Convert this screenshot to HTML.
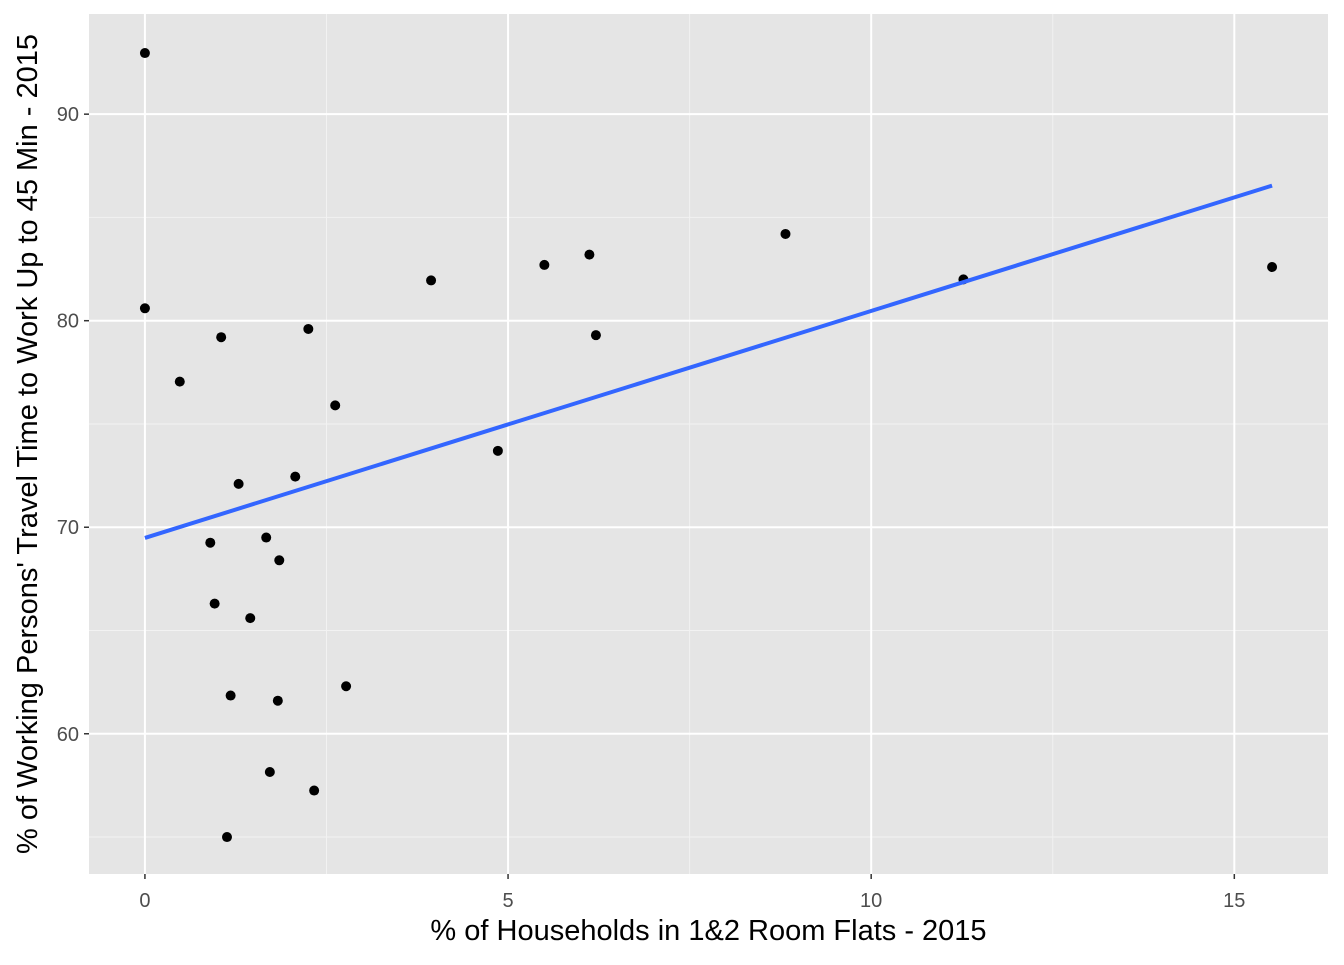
<!DOCTYPE html>
<html><head><meta charset="utf-8"><style>
body{margin:0;background:#fff;}
svg text{font-family:"Liberation Sans",Arial,sans-serif;}
</style></head><body>
<svg id="chart" width="1344" height="960" xmlns="http://www.w3.org/2000/svg"></svg>
<script>
const xs=[0,0,1.05,0.48,2.25,2.62,1.29,2.07,0.9,1.67,1.85,0.96,1.45,1.18,1.83,2.77,1.72,2.33,1.13,3.94,4.86,5.5,6.12,6.21,8.82,11.27,15.52];
const ys=[92.96,80.6,79.2,77.05,79.6,75.9,72.1,72.45,69.25,69.5,68.4,66.3,65.6,61.85,61.6,62.3,58.15,57.25,55.0,81.95,73.7,82.7,83.2,79.3,84.2,82.0,82.6];
const xTicks=[0,5,10,15];
const yTicks=[60,70,80,90];
const xMinor=[2.5,7.5,12.5];
const yMinor=[55,65,75,85];
const L=89,R=1328,T=14,B=874;
const xMin=-0.77,xMax=16.29,yMin=53.21,yMax=94.85;
const sx=v=>L+(v-xMin)/(xMax-xMin)*(R-L);
const sy=v=>B-(v-yMin)/(yMax-yMin)*(B-T);
const svg=document.getElementById('chart');
const NS='http://www.w3.org/2000/svg';
function mk(t,a){const e=document.createElementNS(NS,t);for(const k in a)e.setAttribute(k,a[k]);svg.appendChild(e);return e;}
let e=mk('rect',{x:L,y:T,width:R-L,height:B-T,fill:'#e5e5e5'});


xMinor.forEach(v=>{const g=mk('line',{x1:sx(v),x2:sx(v),y1:T,y2:B,stroke:'#f2f2f2','stroke-width':1});

});
yMinor.forEach(v=>{const g=mk('line',{x1:L,x2:R,y1:sy(v),y2:sy(v),stroke:'#f2f2f2','stroke-width':1});

});
xTicks.forEach(v=>{const g=mk('line',{x1:sx(v),x2:sx(v),y1:T,y2:B,stroke:'#fff','stroke-width':2});


const t=mk('line',{x1:sx(v),x2:sx(v),y1:B,y2:B+5,stroke:'#333','stroke-width':1.5});


const l=mk('text',{x:sx(v),y:B+33,'text-anchor':'middle','font-size':20,fill:'#4d4d4d'});l.textContent=v;

});
yTicks.forEach(v=>{const g=mk('line',{x1:L,x2:R,y1:sy(v),y2:sy(v),stroke:'#fff','stroke-width':2});


const t=mk('line',{x1:L-5,x2:L,y1:sy(v),y2:sy(v),stroke:'#333','stroke-width':1.5});


const l=mk('text',{x:L-10,y:sy(v)+7,'text-anchor':'end','font-size':20,fill:'#4d4d4d'});l.textContent=v;

});
xs.forEach((x,i)=>{const c=mk('circle',{cx:sx(x),cy:sy(ys[i]),r:5,fill:'#000'});

});
const n=xs.length,mx=xs.reduce((a,b)=>a+b)/n,my=ys.reduce((a,b)=>a+b)/n;
let sxy=0,sxx=0;xs.forEach((x,i)=>{sxy+=(x-mx)*(ys[i]-my);sxx+=(x-mx)**2;});
const b=sxy/sxx,a=my-b*mx,x0=Math.min(...xs),x1=Math.max(...xs);
const fl=mk('line',{x1:sx(x0),y1:sy(a+b*x0),x2:sx(x1),y2:sy(a+b*x1),stroke:'#3366ff','stroke-width':4});


const xt=mk('text',{x:(L+R)/2,y:940,'text-anchor':'middle','font-size':29,fill:'#000'});xt.textContent='% of Households in 1&2 Room Flats - 2015';


const yt=mk('text',{x:0,y:0,'text-anchor':'middle','font-size':29,fill:'#000',transform:`translate(37,${(T+B)/2}) rotate(-90)`});yt.textContent="% of Working Persons' Travel Time to Work Up to 45 Min - 2015";


</script>
</body></html>
